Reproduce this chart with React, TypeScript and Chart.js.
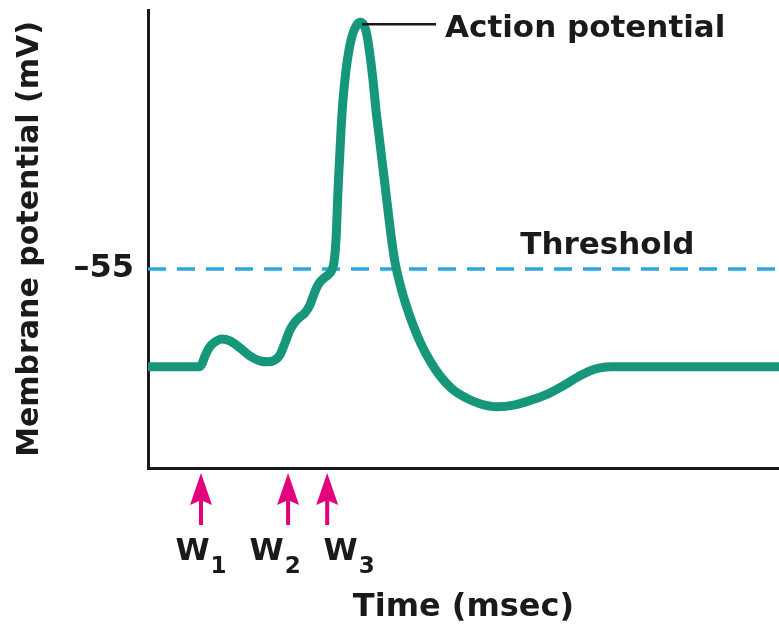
import React, { useEffect, useRef } from "react";
import { Chart, registerables } from "chart.js";

Chart.register(...registerables);

// ---- data ----
const timeMs = [
  0, 8.08, 8.56, 9.03, 9.67, 10.62, 11.73, 13.0, 14.58, 16.16, 17.75, 19.02,
  20.13, 20.92, 21.71, 22.5, 23.3, 24.09, 24.88, 25.67, 26.31, 26.94, 27.73,
  28.53, 29.16, 29.48, 29.71, 29.87, 30.11, 30.35, 30.59, 30.9, 31.38, 31.85,
  32.33, 32.96, 33.6, 34.23, 34.71, 35.18, 35.66, 36.13, 36.61, 37.08, 37.56,
  38.03, 38.51, 39.14, 39.94, 40.89, 42.0, 43.26, 44.69, 46.28, 48.18, 50.4,
  52.61, 55.31, 58.16, 60.86, 63.39, 65.77, 68.15, 70.05, 71.63, 73.53, 100,
];
const membranePotential = [
  -70.0, -70.0, -69.54, -68.32, -67.09, -66.17, -65.71, -66.02, -67.09, -68.32,
  -69.08, -69.23, -68.93, -68.16, -66.33, -64.34, -63.11, -62.35, -61.73,
  -60.51, -58.83, -57.45, -56.53, -55.92, -55.15, -53.93, -51.78, -49.03,
  -42.91, -38.32, -33.72, -29.13, -24.54, -21.48, -19.34, -17.8, -17.19,
  -17.65, -19.18, -22.24, -26.07, -30.66, -34.49, -38.32, -42.14, -45.97,
  -49.8, -53.93, -57.3, -60.51, -63.57, -66.48, -69.08, -71.38, -73.37,
  -74.75, -75.66, -76.12, -75.82, -75.05, -74.13, -72.91, -71.53, -70.61,
  -70.15, -70.0, -70.0,
];
const thresholdMv = -55;
const timeRange = [0, 100];
const potentialRange = [-85.5, -15.3];
const yTickValues = [-55];
const yTickLabels = ["\u201355"];
const stimulusTimes = [8.4, 22.2, 28.4];
const stimulusNames = ["W", "W", "W"];
const stimulusSubscripts = ["1", "2", "3"];
const peakLabel = "Action potential";
const thresholdLabel = "Threshold";
const xTitle = "Time (msec)";
const yTitle = "Membrane potential (mV)";

const FONT = "'DejaVu Sans', 'Liberation Sans', Arial, sans-serif";
const GREEN = "#16967a";
const BLUE = "#2ba7dd";
const MAGENTA = "#e3007c";
const INK = "#1a1a1a";

const annotations = {
  id: "annotations",
  afterDraw(chart: any) {
    const { ctx, scales } = chart;
    const xs = scales.x;
    const ys = scales.y;
    ctx.save();

    // peak leader line + label
    let peakIdx = 0;
    membranePotential.forEach((v, i) => {
      if (v > membranePotential[peakIdx]) peakIdx = i;
    });
    const px = xs.getPixelForValue(timeMs[peakIdx]);
    const py = ys.getPixelForValue(membranePotential[peakIdx]);
    ctx.strokeStyle = INK;
    ctx.lineWidth = 2.5;
    ctx.beginPath();
    ctx.moveTo(px + 2, py + 2);
    ctx.lineTo(px + 76, py + 2);
    ctx.stroke();
    ctx.fillStyle = INK;
    ctx.font = `bold 31px ${FONT}`;
    ctx.textAlign = "left";
    ctx.textBaseline = "alphabetic";
    ctx.fillText(peakLabel, px + 85, py + 15);

    // threshold label
    const ty = ys.getPixelForValue(thresholdMv);
    ctx.fillText(thresholdLabel, xs.getPixelForValue(59), ty - 15);

    // stimulus arrows + labels
    const shifts = [0, -13, 22];
    const axisY = ys.bottom;
    stimulusTimes.forEach((t, i) => {
      const x = xs.getPixelForValue(t);
      ctx.fillStyle = MAGENTA;
      ctx.beginPath();
      ctx.moveTo(x, axisY + 5);
      ctx.lineTo(x + 11, axisY + 37);
      ctx.lineTo(x + 2, axisY + 33);
      ctx.lineTo(x + 2, axisY + 57);
      ctx.lineTo(x - 2, axisY + 57);
      ctx.lineTo(x - 2, axisY + 33);
      ctx.lineTo(x - 11, axisY + 37);
      ctx.closePath();
      ctx.fill();

      ctx.fillStyle = INK;
      ctx.font = `bold 31px ${FONT}`;
      const w = ctx.measureText(stimulusNames[i]).width;
      ctx.font = `bold 23px ${FONT}`;
      const sw = ctx.measureText(stimulusSubscripts[i]).width;
      const left = x + shifts[i] - (w + 1 + sw) / 2;
      ctx.font = `bold 31px ${FONT}`;
      ctx.textAlign = "left";
      ctx.fillText(stimulusNames[i], left, axisY + 92);
      ctx.font = `bold 23px ${FONT}`;
      ctx.fillText(stimulusSubscripts[i], left + w + 1, axisY + 105);
    });
    ctx.restore();
  },
};

export default function App() {
  const ref = useRef<HTMLCanvasElement | null>(null);
  useEffect(() => {
    if (!ref.current) return;
    const chart = new Chart(ref.current, {
      type: "line",
      data: {
        datasets: [
          {
            label: "Membrane potential",
            data: timeMs.map((t, i) => ({ x: t, y: membranePotential[i] })),
            borderColor: GREEN,
            borderWidth: 9,
            pointRadius: 0,
            cubicInterpolationMode: "monotone",
            borderCapStyle: "round",
            borderJoinStyle: "round",
            order: 0,
          },
          {
            label: "Threshold",
            data: timeRange.map((t) => ({ x: t, y: thresholdMv })),
            borderColor: BLUE,
            borderWidth: 3.5,
            borderDash: [18, 11],
            pointRadius: 0,
            order: 1,
          },
        ],
      },
      options: {
        animation: false,
        responsive: false,
        layout: { padding: { top: 10, right: 0, left: 0, bottom: 0 } },
        plugins: { legend: { display: false }, tooltip: { enabled: false } },
        scales: {
          x: {
            type: "linear",
            min: timeRange[0],
            max: timeRange[1],
            grid: { display: false, drawTicks: false },
            border: { color: INK, width: 3 },
            ticks: { display: false },
            title: {
              display: true,
              text: xTitle,
              color: INK,
              font: { family: FONT, weight: "bold", size: 32 },
              padding: { top: 0, bottom: 8 },
            },
            afterFit: (s: any) => {
              s.height = 167;
              s.paddingLeft = 0;
              s.paddingRight = 0;
            },
          },
          y: {
            type: "linear",
            min: potentialRange[0],
            max: potentialRange[1],
            afterBuildTicks: (s: any) => {
              s.ticks = yTickValues.map((v) => ({ value: v }));
            },
            grid: { display: false, drawTicks: false },
            border: { color: INK, width: 3 },
            ticks: {
              color: INK,
              padding: 14,
              font: { family: FONT, weight: "bold", size: 32 },
              callback: (_v: any, i: number) => yTickLabels[i],
            },
            title: {
              display: true,
              text: yTitle,
              color: INK,
              font: { family: FONT, weight: "bold", size: 30 },
              padding: { top: 12, bottom: 0 },
            },
            afterFit: (s: any) => {
              s.width = 148;
              s.paddingTop = 0;
              s.paddingBottom = 0;
            },
          },
        },
      },
      plugins: [annotations],
    } as any);
    return () => chart.destroy();
  }, []);
  return (
    <div
      style={{
        position: "fixed",
        left: 0,
        top: 0,
        width: 779,
        height: 635,
        background: "#fff",
      }}
    >
      <canvas ref={ref} width={779} height={635} style={{ display: "block" }} />
    </div>
  );
}
